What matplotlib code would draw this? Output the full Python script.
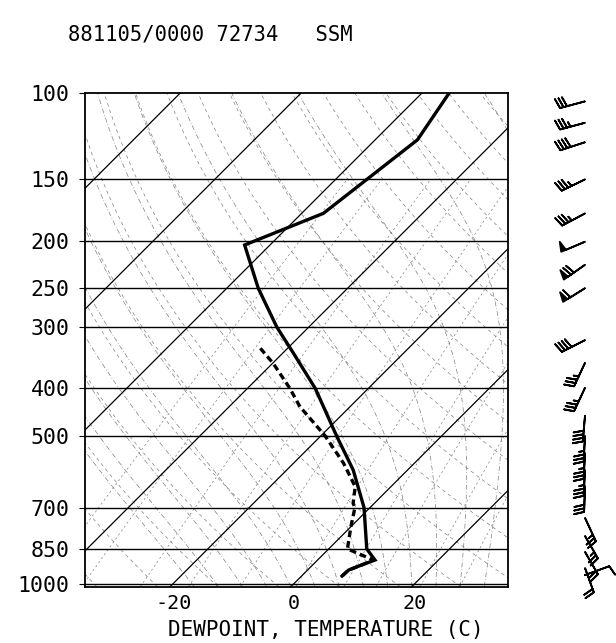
import numpy as np
import matplotlib
matplotlib.use("Agg")
import matplotlib.pyplot as plt
from matplotlib.ticker import NullLocator

# sounding 72734 SSM, 881105/0000
temp_p = [100, 124.6, 175.9, 204.1, 250, 300, 339.3, 400, 500, 586.9, 700, 850,
          895.6, 916.8, 938.6, 965.4]
temp_t = [-55.5, -53.0, -56.4, -64.2, -54.8, -45.3, -38.2, -28.8, -17.4, -9.0,
          -1.0, 6.3, 9.5, 8.1, 6.8, 6.7]

dew_p = [331.5, 355.7, 400, 436, 500, 568.7, 634.8, 686.3, 700, 765.9, 850,
         874.8, 895.6, 916.8, 938.6, 965.4]
dew_t = [-44.5, -39.9, -33.0, -28.3, -19.3, -11.7, -5.9, -3.5, -2.5, 0.0, 3.1,
         6.5, 9.2, 8.1, 6.8, 6.7]

wind_p = [104, 115, 126, 150, 176, 201, 224, 250, 319, 355, 399, 455, 500, 542,
          587, 633, 735, 800, 862, 930, 961]
wind_dir = [255, 255, 252, 244, 242, 247, 235, 238, 243, 205, 205, 185, 183, 183,
            183, 182, 155, 150, 150, 160, 70]
wind_spd = [30, 35, 40, 35, 35, 50, 70, 60, 40, 35, 35, 40, 35, 35, 35, 30, 25,
            25, 20, 20, 10]

p_levels = [100, 150, 200, 250, 300, 400, 500, 700, 850, 1000]
t_ticks = [-20, 0, 20]

TITLE = "881105/0000 72734   SSM"
XLABEL = "DEWPOINT, TEMPERATURE (C)"

W, H = 616, 643
P_TOP, P_BOT = 100, 1015
X_MIN, X_MAX = -34.6, 35.4
SKEW = 35.25          # gives 45 degree isotherms for this box
FONT = "DejaVu Sans Mono"


def skew_x(t, p):
    return np.asarray(t) + SKEW * np.log(1000.0 / np.asarray(p))


def px_box(l, t, r, b):
    return [l / W, 1 - b / H, (r - l) / W, (b - t) / H]


def moist_adiabat(t0, pp):
    Rd, cp, Lv, eps = 287.04, 1005.7, 2.501e6, 0.622

    def lapse(T, p):
        es = 6.112 * np.exp(17.67 * (T - 273.15) / (T - 29.65))
        rs = eps * es / (p - es)
        return (Rd * T + Lv * rs) / (cp + Lv * Lv * rs * eps / (Rd * T * T)) / p

    T = t0 + 273.15
    out = [T]
    for i in range(1, len(pp)):
        p = pp[i - 1]
        dp = pp[i] - pp[i - 1]
        k1 = lapse(T, p)
        k2 = lapse(T + k1 * dp, p + dp)
        T = T + 0.5 * (k1 + k2) * dp
        out.append(T)
    return np.array(out) - 273.15


fig = plt.figure(figsize=(W / 100, H / 100), dpi=100)
ax = fig.add_axes(px_box(85, 93, 508, 586.7))
ax.set_yscale("log")
ax.set_ylim(P_BOT, P_TOP)
ax.set_xlim(X_MIN, X_MAX)

pp = np.geomspace(P_BOT, P_TOP, 200)

# dry adiabats
for theta in range(230, 500, 10):
    tt = theta * (pp / 1000.0) ** 0.2857 - 273.15
    ax.plot(skew_x(tt, pp), pp, color="0.5", lw=0.5, dashes=(5, 5))

# moist adiabats
for tw in range(-16, 37, 4):
    tt = moist_adiabat(tw, pp)
    ax.plot(skew_x(tt, pp), pp, color="0.5", lw=0.5, dashes=(7, 3, 1, 3))

# mixing ratio lines
pm = np.geomspace(P_BOT, 150, 60)
for w in [0.1, 0.2, 0.5, 1, 2, 4, 7, 10, 16, 24]:
    e = w * pm / (622.0 + w)
    lg = np.log(e / 6.112)
    td = 243.5 * lg / (17.67 - lg)
    ax.plot(skew_x(td, pm), pm, color="0.5", lw=0.5, dashes=(3, 4))

# isotherms
for t in range(-120, 41, 20):
    ends = np.array([P_BOT, P_TOP])
    ax.plot(skew_x([t, t], ends), ends, color="k", lw=0.9)

# isobars
for p in p_levels[1:]:
    ax.axhline(p, color="k", lw=1.0)

ax.plot(skew_x(temp_t, temp_p), temp_p, color="k", lw=2.4,
        solid_joinstyle="miter")
ax.plot(skew_x(dew_t, dew_p), dew_p, color="k", lw=2.4, dashes=(2.0, 1.2))

ax.set_yticks(p_levels)
ax.set_yticklabels([str(p) for p in p_levels], family=FONT, fontsize=15.5)
ax.yaxis.set_minor_locator(NullLocator())
ax.tick_params(axis="y", length=4, width=0.8, pad=7)
ax.set_xticks(t_ticks)
ax.set_xticklabels([str(t) for t in t_ticks], family=FONT, fontsize=14.5)
ax.tick_params(axis="x", length=0, pad=5)
for s in ax.spines.values():
    s.set_linewidth(1.3)

fig.text(68 / W, 1 - 34.5 / H, TITLE, family=FONT, fontsize=14.8,
         ha="left", va="center")
fig.text(326 / W, 1 - 630 / H, XLABEL, family=FONT, fontsize=15,
         ha="center", va="center")

# wind barbs column
bax = fig.add_axes(px_box(540, 93, 616, 586.7))
bax.set_yscale("log")
bax.set_ylim(P_BOT, P_TOP)
bax.set_xlim(0, 1)
bax.axis("off")
rad = np.deg2rad(wind_dir)
u = -np.array(wind_spd) * np.sin(rad)
v = -np.array(wind_spd) * np.cos(rad)
bax.barbs(np.full(len(wind_p), 45 / 76), wind_p, u, v, length=6.1, lw=1.3,
          pivot="tip", sizes=dict(spacing=0.14, height=0.38, width=0.2),
          clip_on=False)

fig.savefig("out.png", dpi=100)
